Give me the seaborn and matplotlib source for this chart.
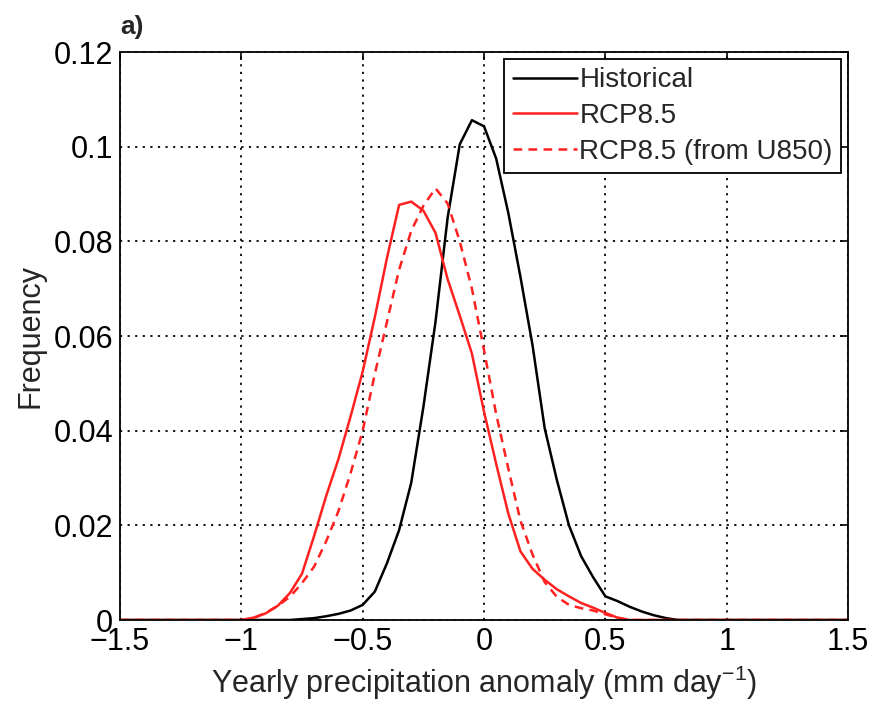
import numpy as np
import pandas as pd
import matplotlib
matplotlib.use("Agg")
import matplotlib.pyplot as plt
import seaborn as sns

sns.set_style("white")
plt.rcParams['font.family'] = ['Liberation Sans', 'DejaVu Sans']
plt.rcParams['mathtext.fontset'] = 'custom'
plt.rcParams['mathtext.rm'] = 'Liberation Sans'

# Historical
hist_x = [-1.5, -0.8, -0.75, -0.7, -0.65, -0.6, -0.55, -0.5, -0.45, -0.4, -0.35, -0.3, -0.25, -0.2,
          -0.15, -0.1, -0.05, 0.0, 0.05, 0.1, 0.15, 0.2, 0.25, 0.3, 0.35, 0.4, 0.45, 0.5, 0.55,
          0.6, 0.65, 0.7, 0.75, 0.8, 1.5]
hist_y = [0.0, 0.0, 0.0002, 0.0004, 0.0008, 0.0013, 0.002, 0.0032, 0.006, 0.012, 0.019, 0.029, 0.045, 0.063,
          0.085, 0.1005, 0.1056, 0.1043, 0.0975, 0.086, 0.0725, 0.058, 0.0405, 0.0296, 0.020, 0.0135, 0.009, 0.005, 0.004,
          0.0028, 0.0018, 0.001, 0.0004, 0.0, 0.0]

# RCP8.5
rcp_x = [-1.5, -1.0, -0.95, -0.9, -0.85, -0.8, -0.75, -0.7, -0.65, -0.6, -0.55, -0.5, -0.45, -0.4,
         -0.35, -0.3, -0.25, -0.2, -0.15, -0.1, -0.05, 0.0, 0.05, 0.1, 0.15, 0.2, 0.25, 0.3, 0.35,
         0.4, 0.45, 0.5, 0.55, 0.6, 1.5]
rcp_y = [0.0, 0.0, 0.0005, 0.0014, 0.003, 0.0057, 0.0098, 0.0178, 0.0263, 0.034, 0.043, 0.0525, 0.064, 0.0765,
         0.0877, 0.0884, 0.0865, 0.0818, 0.072, 0.0643, 0.0563, 0.044, 0.033, 0.0225, 0.0145, 0.0108, 0.0085, 0.0065, 0.005,
         0.0036, 0.0026, 0.0015, 0.0005, 0.0, 0.0]

# RCP8.5 (from U850)
u850_x = [-1.5, -1.0, -0.95, -0.9, -0.85, -0.8, -0.75, -0.7, -0.65, -0.6, -0.55, -0.5, -0.45, -0.4,
          -0.35, -0.3, -0.25, -0.2, -0.15, -0.1, -0.05, 0.0, 0.05, 0.1, 0.15, 0.2, 0.25, 0.3, 0.35,
          0.4, 0.45, 0.5, 0.55, 0.6, 1.5]
u850_y = [0.0, 0.0, 0.0004, 0.0015, 0.003, 0.0049, 0.0078, 0.0113, 0.0167, 0.023, 0.031, 0.040, 0.052, 0.063,
          0.074, 0.0822, 0.0875, 0.0912, 0.088, 0.080, 0.070, 0.057, 0.0435, 0.032, 0.021, 0.0138, 0.008, 0.0049, 0.0032,
          0.0025, 0.002, 0.0012, 0.0005, 0.0, 0.0]

xticks = [-1.5, -1, -0.5, 0, 0.5, 1, 1.5]
xticklabels = ["\u22121.5", "\u22121", "\u22120.5", "0", "0.5", "1", "1.5"]
yticks = [0, 0.02, 0.04, 0.06, 0.08, 0.1, 0.12]
yticklabels = ["0", "0.02", "0.04", "0.06", "0.08", "0.1", "0.12"]

fig = plt.figure(figsize=(8.73, 7.04), dpi=100)
ax = fig.add_axes([0.1375, 0.1193, 0.8339, 0.8068])

sns.lineplot(x=hist_x, y=hist_y, ax=ax, color="black", lw=1.8, estimator=None, sort=False, label="Historical")
sns.lineplot(x=rcp_x, y=rcp_y, ax=ax, color="#ff2020", lw=1.8, estimator=None, sort=False, label="RCP8.5")
sns.lineplot(x=u850_x, y=u850_y, ax=ax, color="#ff2020", lw=1.8, estimator=None, sort=False,
             label="RCP8.5 (from U850)", linestyle=(0, (3.5, 2.5)))

ax.set_xlim(-1.5, 1.5)
ax.set_ylim(0, 0.12)
ax.set_xticks(xticks)
ax.set_xticklabels(xticklabels)
ax.set_yticks(yticks)
ax.set_yticklabels(yticklabels)
ax.grid(True, color="black", linestyle=(0, (1.2, 3)), linewidth=1.3)
ax.set_axisbelow(True)
for s in ax.spines.values():
    s.set_visible(True)
    s.set_color("black")
    s.set_linewidth(1.3)
ax.tick_params(direction="in", top=True, right=True, length=6, width=1.2, labelsize=22, pad=5, colors="black")
ax.set_xlabel("Yearly precipitation anomaly (mm day$^{-1}$)", fontsize=22, labelpad=5)
ax.set_ylabel("Frequency", fontsize=22, labelpad=6)

leg = ax.legend(loc="upper right", fontsize=20, frameon=True, fancybox=False, framealpha=1,
                edgecolor="black", borderpad=0.3, labelspacing=0.35, handlelength=2.3,
                handletextpad=0.1, borderaxespad=0.25)
leg.get_frame().set_linewidth(1.3)

fig.text(0.138, 1 - 27 / 704, "a)", fontsize=19, fontweight="bold", ha="left", va="center")

fig.savefig("out.png", dpi=100)
